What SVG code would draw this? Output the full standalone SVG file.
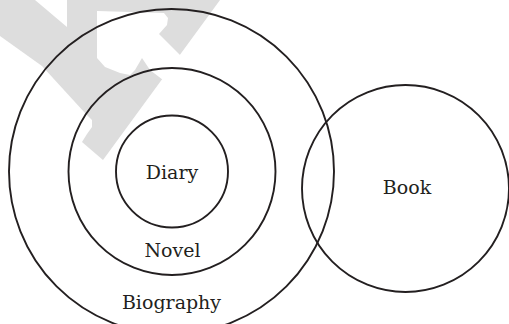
<svg xmlns="http://www.w3.org/2000/svg" width="509" height="324" viewBox="0 0 509 324">
  <style>
    .ring { fill: none; stroke: #231f20; stroke-width: 1.9; }
    .lbl { font-family: "DejaVu Serif", "Liberation Serif", serif; font-size: 19px; fill: #231f20; text-anchor: middle; }
    .wm { fill: #dddddd; }
    .wmhole { fill: #ffffff; }
  </style>
  <rect x="0" y="0" width="509" height="324" fill="#ffffff"/>
  <g id="watermark">
    <polygon class="wm" points="0,0 220,0 103,160 82,142 87,134 92,127 92,120 85,113 42,66 0,36"/>
    <polygon class="wmhole" points="35,0 67,27 67,0"/>
    <polygon class="wmhole" points="97,11 164,13 168,18 167,25 159,34 181,56 163,80 150,70 142,58 135,70 130,75 120,73 105,67 97,58"/>
  </g>
  <g id="biography">
    <circle class="ring" cx="171.5" cy="171.5" r="162.5"/>
    <text class="lbl" x="171.5" y="309">Biography</text>
  </g>
  <g id="novel">
    <circle class="ring" cx="172" cy="171.5" r="103.5"/>
    <text class="lbl" x="172.5" y="257">Novel</text>
  </g>
  <g id="diary">
    <circle class="ring" cx="172" cy="171.5" r="56"/>
    <text class="lbl" x="172" y="179">Diary</text>
  </g>
  <g id="book">
    <circle class="ring" cx="405.5" cy="188.5" r="103.5"/>
    <text class="lbl" x="407" y="194">Book</text>
  </g>
  <g id="connectors"/>
</svg>
